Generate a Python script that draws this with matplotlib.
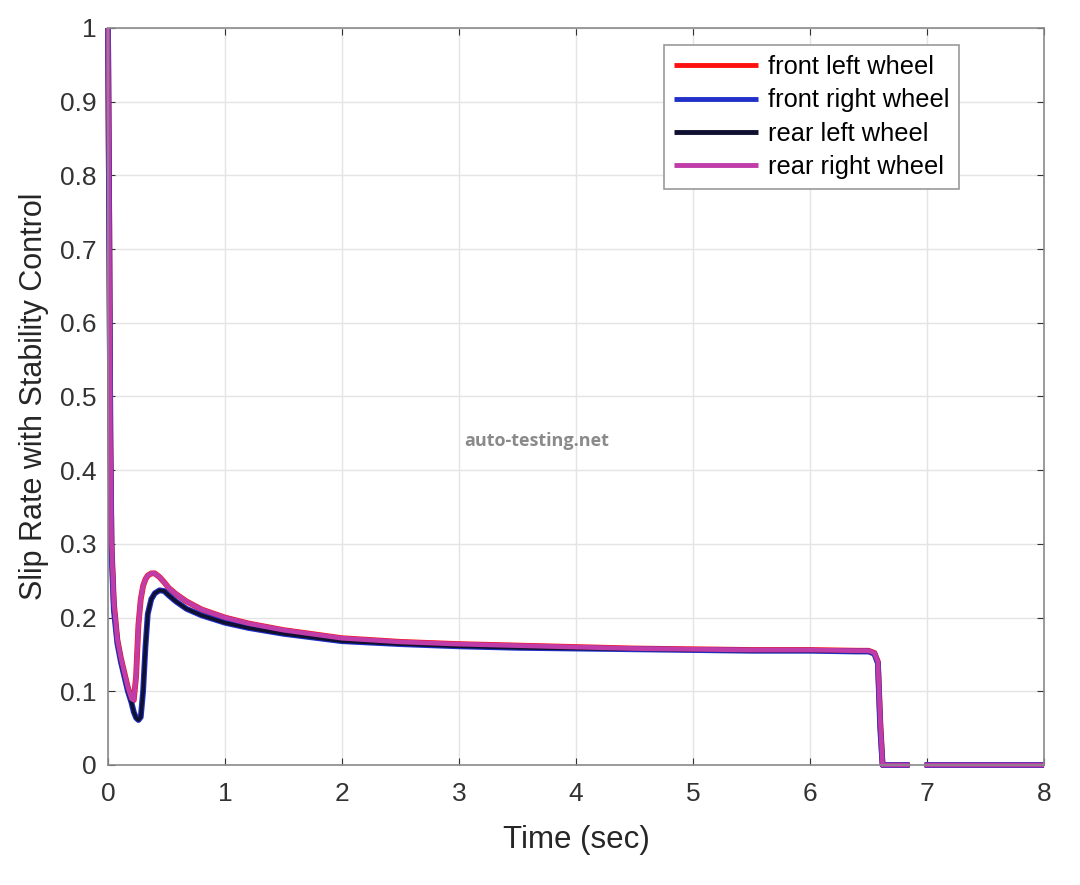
import numpy as np
import matplotlib.pyplot as plt

plt.rcParams['font.family'] = ['Liberation Sans', 'DejaVu Sans']

# time samples (sec); NaN marks the gap in the trace near 6.9 s
time = [0, 0.01, 0.02, 0.03, 0.05, 0.08, 0.11, 0.14, 0.17, 0.20, 0.22,
        0.24, 0.26, 0.28, 0.30, 0.32, 0.34, 0.37, 0.40, 0.44, 0.48, 0.52,
        0.58, 0.67, 0.8, 1.0, 1.2, 1.5, 2.0, 2.5, 3.0, 3.5, 4.0, 4.5, 5.0,
        5.5, 6.0, 6.4, 6.5, 6.55, 6.58, 6.60, 6.62, 6.85, 6.92, 6.98, 8.0]

# rear wheels (upper curve)
rear = [1.0, 0.75, 0.45, 0.30, 0.22, 0.17, 0.145, 0.125, 0.105, 0.090, 0.088,
        0.12, 0.19, 0.225, 0.243, 0.252, 0.257, 0.260, 0.260, 0.255, 0.248, 0.240,
        0.232, 0.222, 0.211, 0.200, 0.192, 0.183, 0.172, 0.167, 0.164, 0.162, 0.160, 0.158, 0.157,
        0.156, 0.156, 0.155, 0.155, 0.152, 0.140, 0.06, 0.0, 0.0, np.nan, 0.0, 0.0]

# front wheels (lower curve)
front = [1.0, 0.74, 0.44, 0.29, 0.21, 0.165, 0.14, 0.12, 0.10, 0.085, 0.072,
         0.064, 0.061, 0.065, 0.10, 0.16, 0.205, 0.225, 0.233, 0.237, 0.236, 0.230,
         0.222, 0.212, 0.203, 0.193, 0.186, 0.178, 0.168, 0.164, 0.161, 0.159, 0.158, 0.157, 0.156,
         0.155, 0.155, 0.154, 0.154, 0.151, 0.138, 0.05, 0.0, 0.0, np.nan, 0.0, 0.0]

labels = ['front left wheel', 'front right wheel', 'rear left wheel', 'rear right wheel']
series = [rear, front, front, rear]
colors = ['#ff1010', '#2030c8', '#101030', '#c03ca8']
widths = [4.2, 4.2, 2.6, 3.4]

fig = plt.figure(figsize=(10.8, 8.85), dpi=100)
ax = fig.add_axes([0.1, 0.1356, 0.8667, 0.8328])

for y, c, w, lab in zip(series, colors, widths, labels):
    ax.plot(time, y, color=c, lw=w, label=lab, clip_on=False, solid_capstyle='butt')

ax.set_xlim(0, 8)
ax.set_ylim(0, 1)
ax.set_xticks(range(9))
ax.set_yticks(np.arange(0, 1.01, 0.1))
ax.set_yticklabels(['0'] + ['%.1f' % v for v in np.arange(0.1, 0.95, 0.1)] + ['1'])
ax.grid(True, color='#e4e4e4', lw=1)
ax.set_axisbelow(True)
ax.tick_params(direction='in', labelsize=19, colors='#333333', length=5,
               top=True, right=True)
ax.tick_params(axis='x', pad=12)
ax.tick_params(axis='y', pad=8)
for s in ax.spines.values():
    s.set_color('#8a8a8a')
    s.set_linewidth(1.2)

ax.set_xlabel('Time (sec)', fontsize=22.5, color='#262626', labelpad=14)
ax.set_ylabel('Slip Rate with Stability Control', fontsize=22, color='#262626', labelpad=8)

leg = ax.legend(loc='upper left', bbox_to_anchor=(0.5935, 0.977), fontsize=18.3,
                frameon=True, fancybox=False, edgecolor='#9a9a9a', framealpha=1,
                handlelength=3.3, handletextpad=0.4, labelspacing=0.37, borderpad=0.4,
                borderaxespad=0)
leg.get_frame().set_linewidth(1.2)
for h in leg.get_lines():
    h.set_linewidth(3.5)

fig.text(0.497, 0.502, 'auto-testing.net', fontsize=13, fontweight='bold',
         color='#8a8a8a', ha='center', va='center', family=['Open Sans', 'DejaVu Sans'])

fig.savefig('out.png', dpi=100, facecolor='white')
